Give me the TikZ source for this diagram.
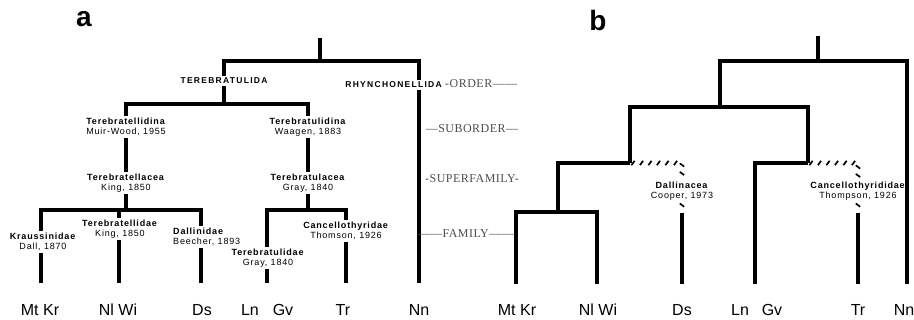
\documentclass[tikz,border=0pt]{standalone}
\usepackage{fontspec}
\setmainfont{Liberation Sans}
\newfontfamily\rankfont[LetterSpace=4]{Liberation Serif}
\newfontfamily\taxfont[LetterSpace=9]{Liberation Sans}
\newfontfamily\capsfont[LetterSpace=15]{Liberation Sans}
\usetikzlibrary{positioning,calc,decorations.markings}
\tikzset{
    branch/.style={
        line width=3.6pt,
        line join=miter,
    },
    hatched/.style={
        decorate,
        decoration={markings,
            mark=between positions 3pt and 1 step 8.5pt with
            {\draw[line width=1.7pt] (-1.6pt,-2.2pt) -- (1.6pt,2.2pt);}},
    },
    taxon/.style={
        font=\taxfont\fontsize{9}{9.5}\selectfont,
        align=center,
        inner sep=2pt,
    },
    capslabel/.style={
        font=\capsfont\bfseries\fontsize{8.5}{9}\selectfont,
        inner sep=2pt,
    },
    rank/.style={
        font=\rankfont\fontsize{12}{12}\selectfont,
        text=black!70,
        inner sep=0pt,
    },
    leaf/.style={
        font=\fontsize{16}{16}\selectfont,
        inner sep=0pt,
    },
    panel/.style={
        font=\bfseries\fontsize{28}{28}\selectfont,
        inner sep=0pt,
    },
}
\begin{document}
\begin{tikzpicture}[x=1pt,y=-1pt]
    \useasboundingbox (0,0) rectangle (914,320);

    % panel a
    \node [panel] (panelA) at (84,19) {a};
    \coordinate (rootA) at (320,38);
    \coordinate (jTopA) at (320,61);
    \coordinate (jTereA) at (224,104);
    \coordinate (jKingA) at (126,210);
    \coordinate (jGrayA) at (308,210);
    \coordinate (tMtA) at (41,283);
    \coordinate (tNlA) at (119,283);
    \coordinate (tDsA) at (201,283);
    \coordinate (tGvA) at (267,283);
    \coordinate (tTrA) at (346,283);
    \coordinate (tNnA) at (419,283);

    \node [capslabel] (tereA) at (224,81) {TEREBRATULIDA};
    \node [capslabel, anchor=east] (rhyA) at (444,85) {RHYNCHONELLIDA};
    \node [taxon] (tlinA) at (126,127) {\textbf{Terebratellidina}\\Muir-Wood, 1955};
    \node [taxon] (tceaA) at (126,183) {\textbf{Terebratellacea}\\King, 1850};
    \node [taxon] (tdinaA) at (308,127) {\textbf{Terebratulidina}\\Waagen, 1883};
    \node [taxon] (tuceaA) at (308,183) {\textbf{Terebratulacea}\\Gray, 1840};
    \node [taxon] (krA) at (43,242) {\textbf{Kraussinidae}\\Dall, 1870};
    \node [taxon] (tellA) at (120,229) {\textbf{Terebratellidae}\\King, 1850};
    \node [taxon, anchor=west, align=left] (dallA) at (171,237) {\textbf{Dallinidae}\\Beecher, 1893};
    \node [taxon] (trbA) at (268,258) {\textbf{Terebratulidae}\\Gray, 1840};
    \node [taxon] (cancA) at (346,231) {\textbf{Cancellothyridae}\\Thomson, 1926};

    \draw [branch] (rootA) -- (jTopA);
    \draw [branch] (tereA.north) |- (jTopA) -| (tNnA |- rhyA.north);
    \draw [branch] (tNnA |- rhyA.south) -- (tNnA);
    \draw [branch] (tereA.south) -- (jTereA);
    \draw [branch] (tlinA.north) |- (jTereA) -| (tdinaA.north);
    \draw [branch] (tlinA.south) -- (tceaA.north);
    \draw [branch] (tceaA.south) -- (jKingA);
    \draw [branch] (tMtA |- krA.north) |- (jKingA) -| (tDsA |- dallA.north);
    \draw [branch] (tNlA |- jKingA) -- (tNlA |- tellA.north);
    \draw [branch] (tMtA |- krA.south) -- (tMtA);
    \draw [branch] (tNlA |- tellA.south) -- (tNlA);
    \draw [branch] (tDsA |- dallA.south) -- (tDsA);
    \draw [branch] (tdinaA.south) -- (tuceaA.north);
    \draw [branch] (tuceaA.south) -- (jGrayA);
    \draw [branch] (tGvA |- trbA.north) |- (jGrayA) -| (cancA.north);
    \draw [branch] (tGvA |- trbA.south) -- (tGvA);
    \draw [branch] (cancA.south) -- (tTrA);

    \node [leaf] (leafMtKrA) at (40,310) {Mt Kr};
    \node [leaf] (leafNlWiA) at (118,310) {Nl Wi};
    \node [leaf] (leafDsA) at (202,310) {Ds};
    \node [leaf] (leafLnA) at (250,310) {Ln};
    \node [leaf] (leafGvA) at (283,310) {Gv};
    \node [leaf] (leafTrA) at (343,310) {Tr};
    \node [leaf] (leafNnA) at (419,310) {Nn};

    % ranks
    \node [rank, anchor=base west] (orderR) at ([xshift=1pt]rhyA.base east) {-ORDER——};
    \node [rank] (suborderR) at (472,129) {—SUBORDER—};
    \node [rank] (superR) at (472,179) {-SUPERFAMILY-};
    \node [rank, anchor=east] (familyR) at (514,234) {——FAMILY——};

    % panel b
    \node [panel] (panelB) at (598,20) {b};
    \coordinate (rootB) at (818,36);
    \coordinate (jTopB) at (818,61);
    \coordinate (jMidB) at (720,107);
    \coordinate (jLeftB) at (630,163);
    \coordinate (jRightB) at (808,163);
    \coordinate (jFamB) at (558,212);
    \coordinate (jDsB) at (682,213);
    \coordinate (jTrB) at (858,213);
    \coordinate (tMtB) at (516,284);
    \coordinate (tNlB) at (597,284);
    \coordinate (tDsB) at (682,284);
    \coordinate (tGvB) at (755,284);
    \coordinate (tTrB) at (858,284);
    \coordinate (tNnB) at (907,284);

    \node [taxon] (dallB) at (682,191) {\textbf{Dallinacea}\\Cooper, 1973};
    \node [taxon] (cancB) at (858,191) {\textbf{Cancellothyrididae}\\Thompson, 1926};

    \draw [branch] (rootB) -- (jTopB);
    \draw [branch] (jMidB) |- (jTopB) -| (tNnB);
    \draw [branch] (jLeftB) |- (jMidB) -| (jRightB);
    \draw [branch] (jFamB) |- (jLeftB);
    \draw [branch] (tMtB) |- (jFamB) -| (tNlB);
    \draw [branch] (tGvB) |- (jRightB);
    \path [hatched] (jLeftB) -| (dallB.north);
    \path [hatched] (dallB.south) -- (jDsB);
    \draw [branch] (jDsB) -- (tDsB);
    \path [hatched] (jRightB) -| (cancB.north);
    \path [hatched] (cancB.south) -- (jTrB);
    \draw [branch] (jTrB) -- (tTrB);

    \node [leaf] (leafMtKrB) at (517,310) {Mt Kr};
    \node [leaf] (leafNlWiB) at (598,310) {Nl Wi};
    \node [leaf] (leafDsB) at (682,310) {Ds};
    \node [leaf] (leafLnB) at (740,310) {Ln};
    \node [leaf] (leafGvB) at (772,310) {Gv};
    \node [leaf] (leafTrB) at (858,310) {Tr};
    \node [leaf] (leafNnB) at (904,310) {Nn};
\end{tikzpicture}
\end{document}
